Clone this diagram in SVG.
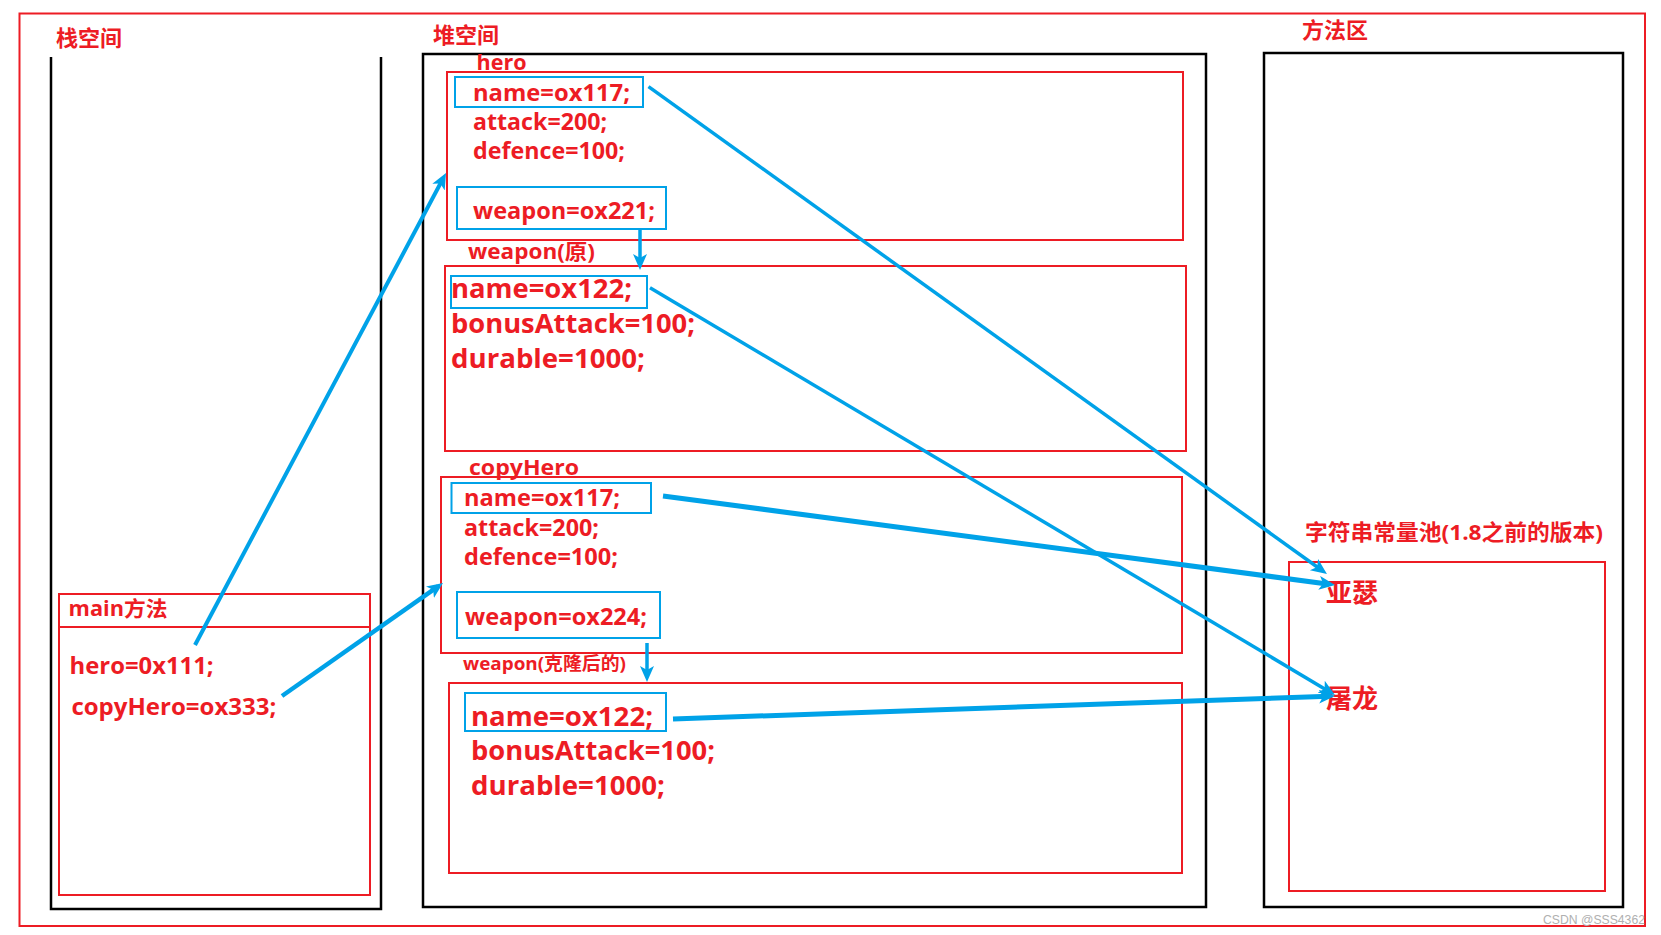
<svg xmlns="http://www.w3.org/2000/svg" width="1661" height="935" viewBox="0 0 1661 935">
<defs>
<marker id="ah" markerUnits="userSpaceOnUse" markerWidth="18" markerHeight="16" refX="10" refY="7" orient="auto">
<path d="M0,0 L16,7 L0,14 L4,7 z" fill="#00A2E8"/>
</marker>
<style>
.red{fill:none;stroke:#ED1C24;stroke-width:2}
.blk{fill:none;stroke:#000;stroke-width:2.5}
.blue{fill:none;stroke:#00A2E8;stroke-width:2}
.t{font-family:"Open Sans","Noto Sans CJK SC",sans-serif;font-weight:bold;fill:#ED1C24}
.c{font-family:"Noto Sans CJK SC",sans-serif;font-weight:bold;fill:#ED1C24}
.arr{fill:none;stroke:#00A2E8;stroke-width:4;marker-end:url(#ah)}
</style>
</defs>
<rect width="1661" height="935" fill="#fff"/>
<rect class="red" x="19.5" y="13.5" width="1625.5" height="912.5"/>

<g id="stack">
<path class="blk" d="M51,57 V909 H381 V57"/>
<text class="c" x="56" y="46" font-size="22">栈空间</text>
</g>
<g id="main">
<rect class="red" x="59" y="594" width="311" height="301"/>
<line class="red" x1="59" y1="627" x2="370" y2="627"/>
<text class="t" x="68.6" y="616" font-size="21" textLength="99" lengthAdjust="spacingAndGlyphs">main方法</text>
<text class="t" x="69.6" y="674" font-size="24" textLength="144" lengthAdjust="spacingAndGlyphs">hero=0x111;</text>
<text class="t" x="71.4" y="715" font-size="24" textLength="205" lengthAdjust="spacingAndGlyphs">copyHero=ox333;</text>
</g>

<g id="heap">
<rect class="blk" x="423" y="54" width="783" height="853"/>
<text class="c" x="433" y="42.5" font-size="22">堆空间</text>
</g>
<g id="hero">
<text class="t" x="476.5" y="69.5" font-size="21" textLength="50" lengthAdjust="spacingAndGlyphs">hero</text>
<rect class="red" x="447" y="72" width="736" height="168"/>
<rect class="blue" x="455" y="77" width="188" height="30"/>
<text class="t" x="473" y="101" font-size="23" textLength="157" lengthAdjust="spacingAndGlyphs">name=ox117;</text>
<text class="t" x="473" y="130" font-size="23" textLength="134" lengthAdjust="spacingAndGlyphs">attack=200;</text>
<text class="t" x="473" y="159" font-size="23" textLength="152" lengthAdjust="spacingAndGlyphs">defence=100;</text>
<rect class="blue" x="457" y="187" width="209" height="42"/>
<text class="t" x="473" y="219" font-size="24" textLength="182" lengthAdjust="spacingAndGlyphs">weapon=ox221;</text>
</g>
<g id="weapon">
<text class="t" x="468" y="259" font-size="21" textLength="127" lengthAdjust="spacingAndGlyphs">weapon(原)</text>
<rect class="red" x="445" y="266" width="741" height="185"/>
<rect class="blue" x="451" y="276" width="196" height="32"/>
<text class="t" x="451" y="298" font-size="27" textLength="181" lengthAdjust="spacingAndGlyphs">name=ox122;</text>
<text class="t" x="451" y="333" font-size="27" textLength="244" lengthAdjust="spacingAndGlyphs">bonusAttack=100;</text>
<text class="t" x="451" y="368" font-size="27" textLength="194" lengthAdjust="spacingAndGlyphs">durable=1000;</text>
</g>
<g id="copyHero">
<text class="t" x="469" y="475" font-size="21" textLength="110" lengthAdjust="spacingAndGlyphs">copyHero</text>
<rect class="red" x="441" y="477" width="741" height="176"/>
<rect class="blue" x="451.5" y="483" width="199.5" height="30"/>
<text class="t" x="464" y="506" font-size="23" textLength="156" lengthAdjust="spacingAndGlyphs">name=ox117;</text>
<text class="t" x="464" y="536" font-size="23" textLength="135" lengthAdjust="spacingAndGlyphs">attack=200;</text>
<text class="t" x="464" y="565" font-size="23" textLength="154" lengthAdjust="spacingAndGlyphs">defence=100;</text>
<rect class="blue" x="457" y="592" width="203" height="46"/>
<text class="t" x="465" y="625" font-size="24" textLength="182" lengthAdjust="spacingAndGlyphs">weapon=ox224;</text>
</g>
<g id="weaponClone">
<text class="t" x="463" y="670" font-size="18" textLength="163" lengthAdjust="spacingAndGlyphs">weapon(克隆后的)</text>
<rect class="red" x="449" y="683" width="733" height="190"/>
<rect class="blue" x="465" y="693" width="201" height="38"/>
<text class="t" x="471" y="726" font-size="27" textLength="182" lengthAdjust="spacingAndGlyphs">name=ox122;</text>
<text class="t" x="471" y="760" font-size="27" textLength="244" lengthAdjust="spacingAndGlyphs">bonusAttack=100;</text>
<text class="t" x="471" y="795" font-size="27" textLength="194" lengthAdjust="spacingAndGlyphs">durable=1000;</text>
</g>

<g id="methodArea">
<rect class="blk" x="1264" y="53" width="359" height="854"/>
<text class="c" x="1302" y="37.5" font-size="22">方法区</text>
</g>
<g id="stringPool">
<text class="t" x="1305" y="540" font-size="22" textLength="298" lengthAdjust="spacingAndGlyphs">字符串常量池(1.8之前的版本)</text>
<rect class="red" x="1289" y="562" width="316" height="329"/>
<text class="c" x="1326" y="602" font-size="26">亚瑟</text>
<text class="c" x="1326" y="708" font-size="26">屠龙</text>
</g>

<g id="connectors">
<line class="arr" x1="195" y1="645" x2="443.2" y2="178.3"/>
<line class="arr" x1="282" y1="696" x2="438.1" y2="586.4" style="stroke-width:4.5"/>
<line class="arr" x1="648.5" y1="86.7" x2="1322.1" y2="570.5" style="stroke-width:3.5"/>
<line class="arr" x1="650" y1="287.7" x2="1329.8" y2="691.9" style="stroke-width:3.5"/>
<line class="arr" x1="663" y1="496" x2="1329.1" y2="584.2" style="stroke-width:5"/>
<line class="arr" x1="673" y1="719" x2="1329" y2="696.2" style="stroke-width:5"/>
<line class="arr" x1="640" y1="229" x2="640" y2="264" style="stroke-width:3.5"/>
<line class="arr" x1="647" y1="643" x2="647" y2="676" style="stroke-width:3.5"/>
</g>

<text x="1543" y="924" font-family="Liberation Sans, sans-serif" font-size="12.5" fill="#b0b0b0" textLength="102" lengthAdjust="spacingAndGlyphs">CSDN @SSS4362</text>
</svg>
